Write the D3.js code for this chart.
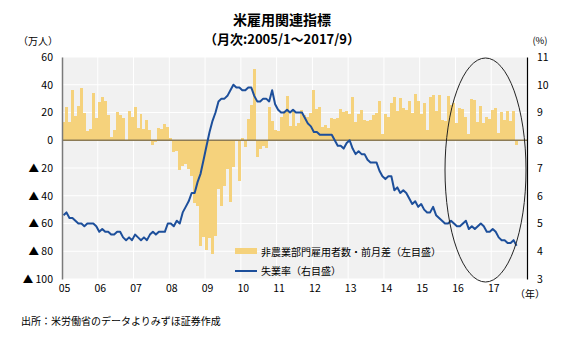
<!DOCTYPE html>
<html><head><meta charset="utf-8">
<script src="https://cdn.jsdelivr.net/npm/d3@7"></script>
<style>
body{margin:0;background:#fff;}
text{font-family:"Noto Sans CJK JP","Noto Sans",sans-serif;}
</style></head>
<body><svg id="c" width="563" height="338"></svg>
<script>
const title1 = "米雇用関連指標";
const title2 = "（月次:2005/1～2017/9）";
const yearLabels = ["05","06","07","08","09","10","11","12","13","14","15","16","17"];
const leftTicks = [60,40,20,0,-20,-40,-60,-80,-100];
const rightTicks = [3,4,5,6,7,8,9,10,11];
// 非農業部門雇用者数・前月差（万人）, 2005/1 - 2017/9
const payrolls = [
 13.2,23.9,13.4,36.3,17.5,24.5,37.3,19.6,6.7,8.4,33.7,15.9,
 27.7,31.5,28.0,18.2,2.3,7.7,20.7,18.4,15.7,0.4,20.8,17.1,
 23.8,8.8,18.8,7.8,14.4,7.1,-3.3,-1.6,8.5,8.2,11.8,9.7,
 1.5,-8.6,-8.0,-21.4,-18.2,-17.2,-21.0,-25.9,-45.2,-47.4,-76.5,-69.7,
 -79.1,-70.3,-82.3,-68.7,-34.9,-47.1,-32.9,-20.9,-44.3,-19.3,-0.8,-29.2,
 1.8,-5.0,15.6,25.1,51.6,-12.2,-6.1,-4.2,-5.7,24.1,13.7,7.1,
 7.0,16.8,21.2,32.2,10.2,21.7,10.6,12.2,22.1,18.3,16.4,19.6,
 36.0,22.6,24.3,9.6,11.0,8.8,16.0,15.0,16.1,22.5,20.3,21.4,
 19.0,31.1,13.5,19.2,21.8,14.6,14.0,14.7,18.3,19.6,28.0,4.5,
 18.8,16.8,27.2,31.0,21.3,30.6,23.2,21.8,28.6,20.0,33.1,28.6,
 19.0,27.1,7.2,30.9,32.9,20.8,32.9,14.9,14.1,32.2,25.3,26.9,
 12.5,23.6,22.5,16.6,4.3,29.7,29.1,13.5,24.9,12.5,16.4,15.5,
 21.6,23.2,5.0,20.7,14.5,21.0,13.8,20.8,-3.3
];
// 失業率（%）
const unemployment = [
 5.3,5.4,5.2,5.2,5.1,5.0,5.0,4.9,5.0,5.0,5.0,4.9,
 4.7,4.8,4.7,4.7,4.6,4.6,4.7,4.7,4.5,4.4,4.5,4.4,
 4.6,4.5,4.4,4.5,4.4,4.6,4.7,4.6,4.7,4.7,4.7,5.0,
 5.0,4.9,5.1,5.0,5.4,5.6,5.8,6.1,6.1,6.5,6.8,7.3,
 7.8,8.3,8.7,9.0,9.4,9.5,9.5,9.6,9.8,10.0,9.9,9.9,
 9.8,9.8,9.9,9.9,9.6,9.4,9.4,9.5,9.5,9.4,9.8,9.3,
 9.1,9.0,9.0,9.1,9.0,9.1,9.0,9.0,9.0,8.8,8.6,8.5,
 8.3,8.3,8.2,8.2,8.2,8.2,8.2,8.0,7.8,7.8,7.7,7.9,
 8.0,7.7,7.5,7.6,7.5,7.5,7.3,7.2,7.2,7.2,6.9,6.7,
 6.6,6.7,6.7,6.2,6.3,6.1,6.2,6.1,5.9,5.7,5.8,5.6,
 5.7,5.5,5.4,5.4,5.6,5.3,5.2,5.1,5.0,5.0,5.1,5.0,
 4.9,4.9,5.0,5.1,4.8,4.9,4.8,4.9,5.0,4.9,4.7,4.7,
 4.8,4.7,4.5,4.4,4.4,4.3,4.3,4.4,4.2
];
const legendLabels = ["非農業部門雇用者数・前月差（左目盛）","失業率（右目盛）"];
const source = "出所：米労働省のデータよりみずほ証券作成";

const svg = d3.select("#c");
const L = 62, R = 527, T = 57, B = 279;
const nMonths = 156;
const x = d3.scaleLinear().domain([0, nMonths]).range([L, R]);
const yL = d3.scaleLinear().domain([-100, 60]).range([B, T]);
const yR = d3.scaleLinear().domain([3, 11]).range([B, T]);

// background
svg.append("rect").attr("x", L).attr("y", T).attr("width", R - L).attr("height", B - T).attr("fill", "#f1f1f1");
// gridlines
svg.append("g").selectAll("line").data(leftTicks).join("line")
  .attr("x1", L).attr("x2", R).attr("y1", d => yL(d)).attr("y2", d => yL(d))
  .attr("stroke", "#fff").attr("stroke-width", 1);
svg.append("g").selectAll("line").data(d3.range(1, 13)).join("line")
  .attr("x1", d => x(d * 12)).attr("x2", d => x(d * 12)).attr("y1", T).attr("y2", B)
  .attr("stroke", "#fff").attr("stroke-width", 1);

// bars
svg.append("g").selectAll("rect").data(payrolls).join("rect")
  .attr("x", (d, i) => x(i))
  .attr("width", x(1) - x(0))
  .attr("y", d => yL(Math.max(0, d)))
  .attr("height", d => Math.abs(yL(d) - yL(0)))
  .attr("fill", "#f5d27c")
  .attr("shape-rendering", "crispEdges");

// zero line
svg.append("line").attr("x1", L).attr("x2", R).attr("y1", yL(0)).attr("y2", yL(0))
  .attr("stroke", "#8c7b55").attr("stroke-width", 1.5);

// unemployment line
const line = d3.line().x((d, i) => x(i + 0.5)).y(d => yR(d));
svg.append("path").datum(unemployment).attr("d", line)
  .attr("fill", "none").attr("stroke", "#1d4f9b").attr("stroke-width", 2).attr("stroke-linejoin", "round");

// axes
const leftAxis = d3.axisLeft(yL).tickValues(leftTicks).tickSize(0).tickPadding(9)
  .tickFormat(d => d < 0 ? "▲ " + Math.abs(d) : String(d));
const gl = svg.append("g").attr("transform", `translate(${L},0)`).call(leftAxis);
gl.select(".domain").attr("stroke", "#7a7a7a").attr("stroke-width", 1.5);
gl.selectAll("text").attr("font-size", 10.5).attr("fill", "#000");

const rightAxis = d3.axisRight(yR).tickValues(rightTicks).tickSize(0).tickPadding(10).tickFormat(d3.format("d"));
const gr = svg.append("g").attr("transform", `translate(${R},0)`).call(rightAxis);
gr.select(".domain").attr("stroke", "#000").attr("stroke-width", 1.2);
gr.selectAll("text").attr("font-size", 10.5).attr("fill", "#000");

const bottomAxis = d3.axisBottom(x).tickValues(d3.range(0, 156, 12)).tickSize(0).tickPadding(6)
  .tickFormat((d, i) => yearLabels[i]);
const gb = svg.append("g").attr("transform", `translate(2,${B})`).call(bottomAxis);
gb.select(".domain").remove();
gb.selectAll("text").attr("font-size", 10.5).attr("fill", "#000");

// ellipse
svg.append("ellipse").attr("cx", 485.5).attr("cy", 170).attr("rx", 40.5).attr("ry", 112)
  .attr("fill", "none").attr("stroke", "#222").attr("stroke-width", 1);

// unit labels
svg.append("text").attr("x", 38).attr("y", 45).attr("text-anchor", "middle").attr("font-size", 10).text("（万人）");
svg.append("text").attr("x", 540).attr("y", 44).attr("text-anchor", "middle").attr("font-size", 9.5).text("(%)");
svg.append("text").attr("x", 530).attr("y", 298).attr("text-anchor", "middle").attr("font-size", 10).text("（年）");

// title
svg.append("text").attr("x", 282).attr("y", 25).attr("text-anchor", "middle").attr("font-size", 14).attr("font-weight", "bold").text(title1);
svg.append("text").attr("x", 282).attr("y", 44).attr("text-anchor", "middle").attr("font-size", 13).attr("font-weight", "bold").text(title2);

// legend
svg.append("rect").attr("x", 235).attr("y", 248).attr("width", 22).attr("height", 6).attr("fill", "#f5d27c");
svg.append("line").attr("x1", 235).attr("x2", 257).attr("y1", 271).attr("y2", 271).attr("stroke", "#1d4f9b").attr("stroke-width", 2);
svg.append("text").attr("x", 261).attr("y", 255.5).attr("font-size", 10).text(legendLabels[0]);
svg.append("text").attr("x", 261).attr("y", 275).attr("font-size", 10).text(legendLabels[1]);

// source
svg.append("text").attr("x", 21).attr("y", 325).attr("font-size", 10).text(source);
</script></body></html>
